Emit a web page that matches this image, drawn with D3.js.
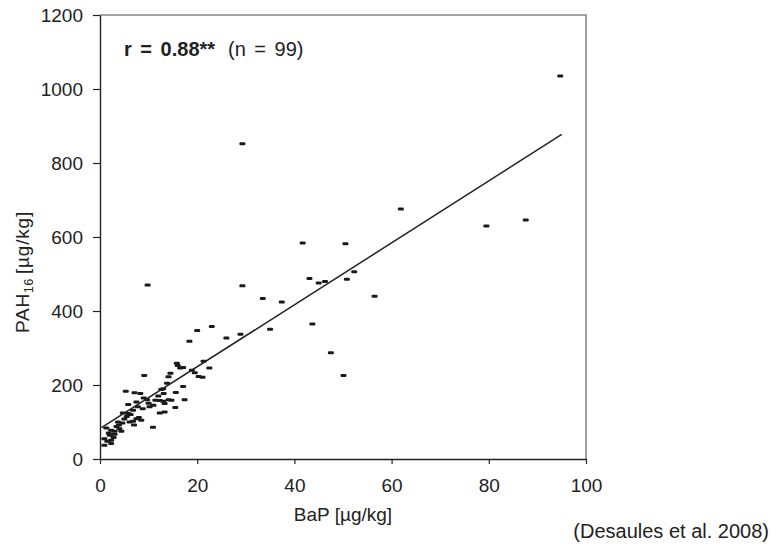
<!DOCTYPE html>
<html>
<head>
<meta charset="utf-8">
<script src="https://cdn.jsdelivr.net/npm/d3@7"></script>
<style>
  body { margin: 0; background: #fff; }
  svg { display: block; font-family: 'Liberation Sans', Arial, sans-serif; }
</style>
</head>
<body>
<svg width="773" height="549"></svg>
<script>

// BaP [µg/kg] per sample
var bap = [
  94.7, 29.3, 61.9, 87.6, 79.5, 41.7, 50.5, 52.3, 43.1, 50.8,
  45.0, 46.3, 29.3, 9.8, 33.5, 37.4, 56.5, 43.7, 23.0, 26.0,
  28.9, 35.0, 47.5, 50.1, 20.0, 18.4, 21.3, 22.5, 21.1, 20.3,
  15.8, 16.0, 17.1, 18.9, 14.5, 14.1, 9.1, 13.8, 12.6, 17.1,
  15.6, 13.1, 8.3, 7.1, 5.3, 17.4, 14.1, 14.7, 11.4, 12.3,
  13.0, 9.7, 10.0, 13.3, 15.5, 10.2, 7.5, 5.8, 7.8, 6.8,
  4.7, 5.8, 6.3, 12.3, 13.3, 7.5, 8.5, 6.8, 3.7, 4.6,
  6.1, 10.9, 3.4, 1.3, 2.3, 3.0, 4.4, 2.0, 3.0, 0.9,
  2.3, 0.9, 2.3, 13.0, 3.9, 5.5, 8.0, 9.0, 11.0, 1.8,
  2.8, 5.0, 7.0, 16.5, 12.0, 19.5, 4.0, 1.5, 8.8
];

// PAH16 [µg/kg] per sample
var pah = [
  1035, 852, 676, 646, 630, 584, 582, 506, 488, 486,
  476, 480, 468, 470, 434, 424, 440, 365, 358, 327,
  337, 351, 287, 226, 347, 318, 264, 246, 221, 223,
  259, 253, 247, 240, 232, 222, 226, 205, 188, 196,
  180, 177, 177, 179, 183, 160, 160, 159, 159, 158,
  156, 160, 151, 150, 139, 141, 154, 147, 141, 132,
  124, 123, 120, 124, 127, 109, 105, 102, 100, 97,
  100, 86, 88, 84, 78, 75, 75, 64, 67, 55,
  51, 37, 42, 190, 92, 115, 112, 165, 145, 70,
  58, 108, 92, 246, 170, 233, 82, 48, 136
];

var xTicks = [0, 20, 40, 60, 80, 100];
var yTicks = [0, 200, 400, 600, 800, 1000, 1200];

// linear fit drawn in the source figure
var fitRange = [0.3, 95];
var fitSlope = 8.37;
var fitIntercept = 82;

var svg = d3.select('svg');
var ink = '#222';

var x = d3.scaleLinear().domain([0, 100]).range([100, 586]);
var y = d3.scaleLinear().domain([0, 1200]).range([459, 15]);

// frame: grey top and right edges
svg.append('path')
  .attr('d', 'M' + x(0) + ',' + y(1200) + 'H' + x(100) + 'V' + y(0))
  .attr('fill', 'none').attr('stroke', '#8c8585').attr('stroke-width', 1.6);

var yAxis = svg.append('g')
  .attr('transform', 'translate(' + x(0) + ',0)')
  .call(d3.axisLeft(y).tickValues(yTicks).tickFormat(d3.format('d'))
    .tickSize(7).tickPadding(10).tickSizeOuter(0));

var xAxis = svg.append('g')
  .attr('transform', 'translate(0,' + y(0) + ')')
  .call(d3.axisBottom(x).tickValues(xTicks).tickFormat(d3.format('d'))
    .tickSize(5).tickPadding(15).tickSizeOuter(0));

[xAxis, yAxis].forEach(function(g) {
  g.select('.domain').attr('stroke', ink).attr('stroke-width', 1.4);
  g.selectAll('line').attr('stroke', ink).attr('stroke-width', 1.2);
  g.selectAll('text').attr('fill', ink).style('font-size', '19px')
    .style('font-family', "'Liberation Sans', Arial, sans-serif");
});

// samples as short dashes
var points = bap.map(function(v, i) {
  return { bap: v, pah: pah[i] };
});
svg.append('g').selectAll('rect').data(points).enter().append('rect')
  .attr('x', function(d) { return x(d.bap) - 3; })
  .attr('y', function(d) { return y(d.pah) - 1.5; })
  .attr('width', 6).attr('height', 3).attr('rx', 1.2)
  .attr('fill', '#1a1a1a');

// regression line
svg.append('line')
  .attr('x1', x(fitRange[0])).attr('y1', y(fitIntercept + fitSlope * fitRange[0]))
  .attr('x2', x(fitRange[1])).attr('y2', y(fitIntercept + fitSlope * fitRange[1]))
  .attr('stroke', ink).attr('stroke-width', 1.5);

// annotation
svg.append('text').attr('x', 124).attr('y', 56)
  .attr('fill', ink).style('font-size', '20px').style('font-weight', 'bold')
  .style('word-spacing', '3px')
  .text('r = 0.88**');
svg.append('text').attr('x', 228).attr('y', 56)
  .attr('fill', ink).style('font-size', '20px').style('word-spacing', '3px')
  .text('(n = 99)');

// axis titles
svg.append('text').attr('x', (x(0) + x(100)) / 2).attr('y', 521)
  .attr('text-anchor', 'middle').attr('fill', ink).style('font-size', '19px')
  .text('BaP [µg/kg]');

var yTitle = svg.append('text')
  .attr('transform', 'translate(29,272) rotate(-90)')
  .attr('text-anchor', 'middle').attr('fill', ink).style('font-size', '19px')
  .style('letter-spacing', '0.8px');
yTitle.append('tspan').text('PAH');
yTitle.append('tspan').attr('dy', 4).style('font-size', '12px').text('16');
yTitle.append('tspan').attr('dy', -4).attr('dx', 4).text('[µg/kg]');

// source note
svg.append('text').attr('x', 769).attr('y', 538)
  .attr('text-anchor', 'end').attr('fill', ink).style('font-size', '20px')
  .text('(Desaules et al. 2008)');

</script>
</body>
</html>
